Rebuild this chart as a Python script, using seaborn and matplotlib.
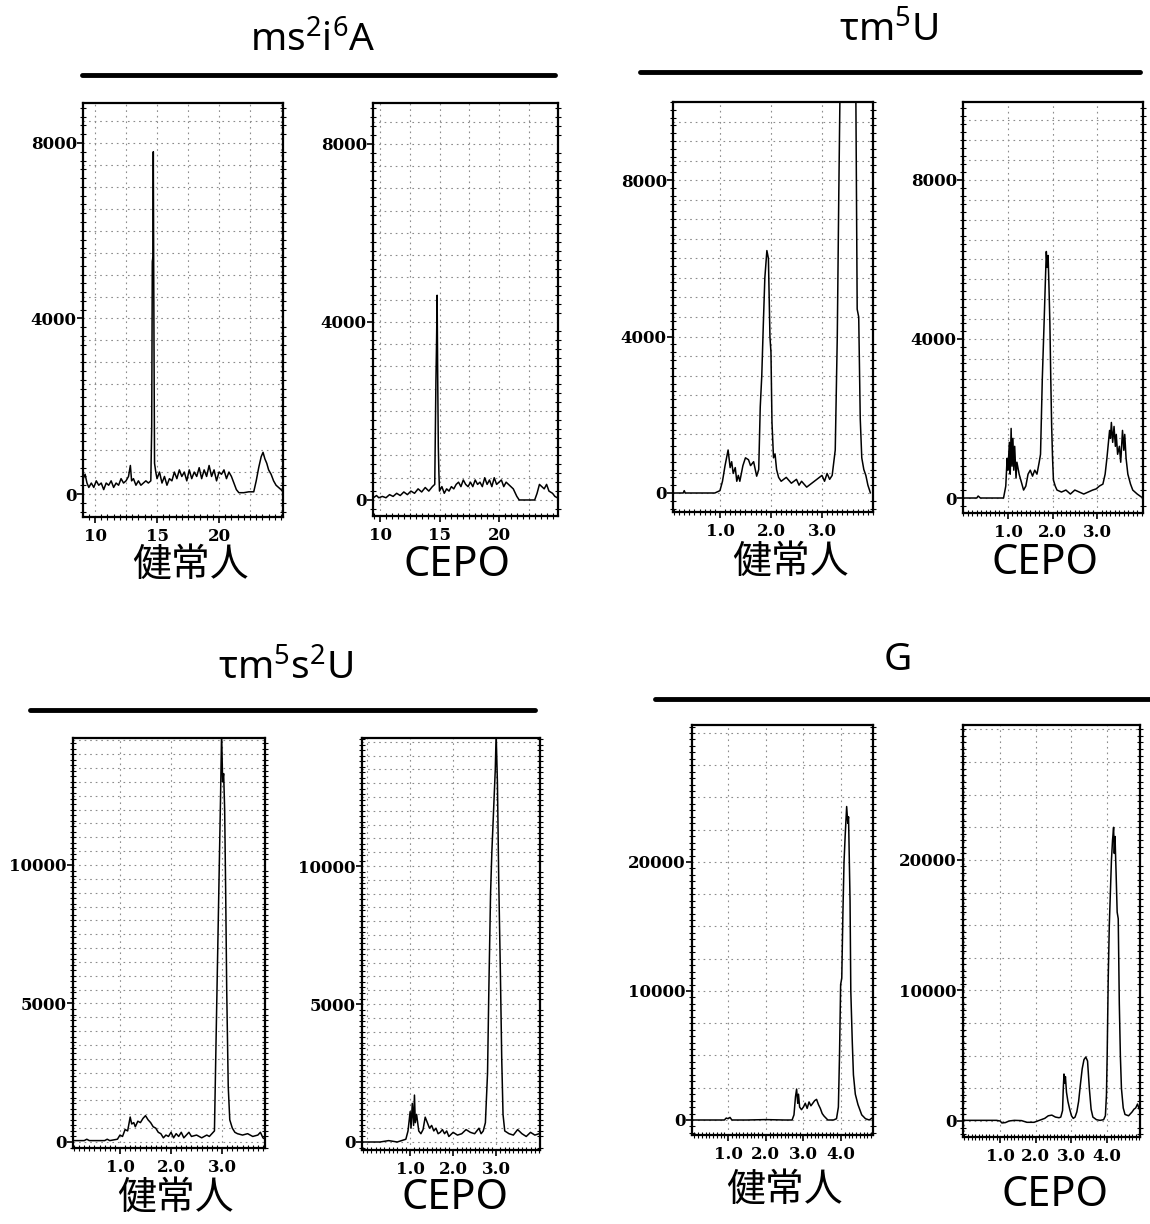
import numpy as np
import pandas as pd
import matplotlib
matplotlib.use("Agg")
import matplotlib.pyplot as plt
import seaborn as sns
from matplotlib.ticker import MultipleLocator
from matplotlib.lines import Line2D

sns.set_theme(style="white")
plt.rcParams['font.family'] = ['Noto Sans', 'DejaVu Sans']

# ---------------- data (retention time, intensity) ----------------
ms2i6A_healthy_t = [9.05, 9.2, 9.35, 9.5, 9.7, 9.9, 10.1, 10.3, 10.5, 10.7, 10.9, 11.1, 11.3, 11.5, 11.7, 11.9,
                    12.1, 12.3, 12.5, 12.7, 12.85, 12.95, 13.1, 13.3, 13.5, 13.7, 13.9, 14.1, 14.3, 14.5, 14.57,
                    14.62, 14.67, 14.7, 14.73, 14.77, 14.8, 14.9, 15.0, 15.2, 15.4, 15.6, 15.8, 16.0, 16.2, 16.4,
                    16.6, 16.8, 17.0, 17.2, 17.4, 17.6, 17.8, 18.0, 18.2, 18.4, 18.6, 18.8, 19.0, 19.2, 19.4,
                    19.6, 19.8, 20.0, 20.2, 20.4, 20.6, 20.8, 21.0, 21.2, 21.4, 21.6, 22.0, 22.4, 22.8, 23.0,
                    23.2, 23.4, 23.55, 23.7, 23.85, 24.0, 24.2, 24.4, 24.6, 24.8, 25.0, 25.15]
ms2i6A_healthy_v = [350, 450, 250, 150, 250, 150, 300, 200, 250, 100, 250, 200, 300, 150, 250, 200,
                    350, 250, 300, 400, 650, 300, 350, 200, 300, 200, 250, 300, 250, 300, 1500,
                    5300, 5400, 7800, 5300, 2500, 700, 500, 350, 500, 250, 400, 200, 350, 300, 500,
                    350, 550, 400, 500, 300, 550, 350, 500, 400, 600, 350, 550, 400, 650, 400,
                    550, 300, 500, 450, 550, 350, 500, 400, 250, 100, 30, 30, 50, 50, 300,
                    600, 850, 950, 800, 700, 550, 450, 300, 200, 150, 100, 50]

ms2i6A_cepo_t = [9.45, 9.7, 9.9, 10.2, 10.5, 10.8, 11.1, 11.4, 11.7, 12.0, 12.3, 12.6, 12.9, 13.2, 13.5, 13.8,
                 14.1, 14.4, 14.6, 14.7, 14.75, 14.8, 14.85, 14.9, 14.95, 15.0, 15.2, 15.4, 15.6, 15.8, 16.0,
                 16.2, 16.4, 16.6, 16.8, 17.0, 17.2, 17.4, 17.6, 17.8, 18.0, 18.2, 18.4, 18.6, 18.8, 19.0,
                 19.2, 19.4, 19.6, 19.8, 20.0, 20.2, 20.4, 20.6, 20.8, 21.0, 21.2, 21.5, 21.7, 23.0, 23.2,
                 23.4, 23.6, 23.8, 24.0, 24.2, 24.5, 24.7, 24.9]
ms2i6A_cepo_v = [50, 100, 50, 80, 50, 120, 80, 150, 100, 180, 120, 200, 150, 250, 180, 280,
                 200, 300, 350, 2700, 3500, 4600, 2700, 1200, 600, 200, 300, 150, 250, 200, 300,
                 250, 350, 400, 300, 450, 350, 300, 400, 300, 450, 350, 400, 300, 500, 350,
                 450, 300, 500, 350, 400, 450, 300, 400, 350, 300, 250, 80, 0, 0, 150,
                 350, 300, 250, 350, 200, 150, 80, 50]

tm5U_healthy_t = [0.08, 0.28, 0.3, 0.32, 0.9, 1.0, 1.05, 1.1, 1.13, 1.16, 1.2, 1.23, 1.26, 1.3, 1.33, 1.36,
                  1.39, 1.45, 1.5, 1.56, 1.6, 1.66, 1.72, 1.76, 1.79, 1.82, 1.85, 1.88, 1.92, 1.95, 1.98,
                  2.0, 2.02, 2.05, 2.08, 2.11, 2.15, 2.2, 2.3, 2.4, 2.5, 2.55, 2.6, 2.7, 2.8, 2.9, 3.0,
                  3.05, 3.1, 3.15, 3.2, 3.26, 3.3, 3.33, 3.36, 3.66, 3.69, 3.72, 3.75, 3.78, 3.82, 3.86,
                  3.9, 3.95]
tm5U_healthy_v = [0, 0, 60, 0, 0, 60, 300, 700, 900, 1100, 650, 800, 500, 650, 300, 450,
                  300, 700, 900, 850, 700, 800, 430, 600, 2200, 3000, 4300, 5500, 6200, 6000, 4000,
                  3600, 1800, 900, 1000, 600, 400, 300, 400, 250, 350, 200, 300, 150, 250, 350, 450,
                  300, 500, 350, 450, 1100, 4000, 7700, 11000, 11000, 4700, 4500, 1900, 900, 600, 450,
                  200, 0]

tm5U_cepo_t = [0.0, 0.3, 0.33, 0.38, 0.9, 0.95, 0.98, 1.0, 1.03, 1.05, 1.07, 1.09, 1.11, 1.13, 1.15, 1.18,
               1.2, 1.25, 1.3, 1.35, 1.4, 1.45, 1.5, 1.55, 1.6, 1.65, 1.7, 1.73, 1.77, 1.81, 1.84, 1.86,
               1.88, 1.9, 1.92, 1.94, 1.96, 1.98, 2.0, 2.02, 2.06, 2.1, 2.2, 2.3, 2.4, 2.5, 2.6, 2.7, 2.8,
               2.9, 2.98, 3.05, 3.13, 3.18, 3.22, 3.25, 3.28, 3.3, 3.32, 3.35, 3.38, 3.41, 3.43, 3.46,
               3.5, 3.53, 3.57, 3.6, 3.62, 3.65, 3.69, 3.75, 3.8, 3.9, 4.0]
tm5U_cepo_v = [0, 0, 50, 0, 0, 300, 1000, 700, 1400, 600, 1750, 800, 1500, 700, 1300, 500,
               900, 600, 400, 200, 300, 600, 700, 550, 700, 600, 900, 1100, 3000, 4400, 5500, 6200,
               5800, 6100, 5300, 4400, 3000, 1800, 1000, 450, 300, 200, 150, 200, 100, 200, 150, 100, 150,
               200, 230, 300, 350, 600, 1000, 1350, 1700, 1500, 1900, 1400, 1800, 1300, 1600, 1100,
               1300, 900, 1700, 1200, 1600, 1000, 600, 350, 200, 100, 20]

tm5s2U_healthy_t = [0.08, 0.3, 0.35, 0.4, 0.7, 0.75, 0.8, 0.95, 1.0, 1.05, 1.1, 1.15, 1.2, 1.23, 1.27, 1.3,
                    1.35, 1.4, 1.45, 1.5, 1.55, 1.6, 1.65, 1.7, 1.75, 1.8, 1.85, 1.9, 1.95, 2.0, 2.05, 2.1,
                    2.15, 2.2, 2.25, 2.3, 2.35, 2.4, 2.5, 2.6, 2.7, 2.75, 2.8, 2.85, 2.88, 2.91, 2.94, 2.97,
                    2.99, 3.01, 3.03, 3.05, 3.07, 3.09, 3.12, 3.15, 3.2, 3.25, 3.3, 3.4, 3.5, 3.6, 3.7,
                    3.75, 3.8, 3.84]
tm5s2U_healthy_v = [50, 50, 100, 50, 50, 100, 50, 100, 250, 200, 450, 400, 900, 650, 700, 550,
                    750, 700, 850, 950, 800, 700, 550, 500, 350, 300, 150, 250, 200, 350, 150, 300,
                    200, 350, 150, 250, 350, 200, 250, 150, 250, 200, 300, 400, 3500, 6500, 9500, 12500,
                    14800, 13000, 13300, 12000, 9000, 5500, 2000, 800, 500, 350, 300, 250, 300, 200, 250,
                    350, 150, 100]

tm5s2U_cepo_t = [-0.12, 0.3, 0.5, 0.7, 0.9, 0.95, 1.0, 1.02, 1.05, 1.08, 1.1, 1.12, 1.15, 1.2, 1.25, 1.3,
                 1.35, 1.4, 1.45, 1.5, 1.55, 1.6, 1.65, 1.7, 1.75, 1.8, 1.85, 1.9, 2.0, 2.1, 2.2, 2.3,
                 2.4, 2.5, 2.6, 2.65, 2.7, 2.75, 2.8, 2.83, 2.87, 2.9, 2.94, 2.98, 3.0, 3.03, 3.06, 3.1,
                 3.13, 3.16, 3.2, 3.3, 3.4, 3.5, 3.6, 3.7, 3.8, 3.9, 4.0]
tm5s2U_cepo_v = [0, 0, 50, 0, 100, 400, 1100, 500, 1400, 600, 1700, 700, 1000, 400, 300, 450,
                 900, 700, 500, 600, 400, 500, 300, 350, 450, 300, 400, 200, 350, 250, 300, 450,
                 350, 300, 500, 300, 400, 700, 2500, 5500, 9000, 10500, 12000, 13500, 14800, 13000, 9500, 6000,
                 3000, 1000, 400, 300, 250, 450, 300, 200, 350, 250, 300]

G_healthy_t = [0.04, 0.9, 0.95, 1.0, 1.05, 1.1, 1.5, 2.0, 2.5, 2.7, 2.75, 2.79, 2.82, 2.85, 2.87, 2.9,
               2.95, 3.0, 3.05, 3.1, 3.15, 3.2, 3.25, 3.3, 3.35, 3.4, 3.45, 3.5, 3.55, 3.65, 3.8, 3.88,
               3.93, 3.96, 3.99, 4.02, 4.05, 4.08, 4.11, 4.15, 4.18, 4.2, 4.24, 4.26, 4.3, 4.33, 4.38,
               4.45, 4.55, 4.65, 4.75, 4.85]
G_healthy_v = [0, 0, 150, 100, 200, 0, 0, 30, 0, 0, 400, 1800, 2400, 1300, 2000, 1000,
               800, 1000, 1300, 900, 1400, 1100, 1300, 1500, 1600, 1200, 900, 500, 300, 0, 0, 100,
               1000, 5000, 10500, 11000, 16000, 20000, 22000, 24300, 23000, 23500, 17000, 10000, 6000, 3500, 2000,
               1200, 400, 100, 0, 200]

G_cepo_t = [-0.04, 0.5, 0.9, 1.0, 1.05, 1.15, 1.25, 1.4, 1.6, 1.75, 1.95, 2.05, 2.15, 2.25, 2.35, 2.45,
            2.55, 2.65, 2.7, 2.75, 2.77, 2.79, 2.81, 2.83, 2.86, 2.9, 2.95, 3.0, 3.05, 3.1, 3.15, 3.2,
            3.25, 3.3, 3.35, 3.4, 3.45, 3.5, 3.55, 3.6, 3.7, 3.8, 3.9, 3.95, 3.98, 4.0, 4.03, 4.06,
            4.09, 4.12, 4.15, 4.18, 4.2, 4.22, 4.25, 4.28, 4.31, 4.34, 4.37, 4.4, 4.45, 4.5, 4.6,
            4.7, 4.75, 4.8, 4.85, 4.9]
G_cepo_v = [50, 50, 50, 0, -150, -120, 0, 50, 30, -100, -100, 0, 100, 200, 400, 450,
            300, 250, 300, 800, 2500, 3600, 2900, 3400, 2200, 1500, 900, 400, 200, 300, 700, 1500,
            2800, 4000, 4700, 4900, 4600, 2500, 900, 300, 100, 50, 100, 400, 2000, 5000, 11000, 15000,
            17500, 20000, 21500, 22500, 20500, 21800, 19000, 16000, 15500, 9000, 5000, 2500, 1000, 500, 400,
            700, 900, 1000, 1300, 900]

# y tick labels / x tick labels per compound
ms2i6A_yticks = [0, 4000, 8000]
ms2i6A_xticks = [10, 15, 20]
tm5U_yticks = [0, 4000, 8000]
tm5U_xticks = [1.0, 2.0, 3.0]
tm5s2U_yticks = [0, 5000, 10000]
tm5s2U_xticks = [1.0, 2.0, 3.0]
G_yticks = [0, 10000, 20000]
G_xticks = [1.0, 2.0, 3.0, 4.0]

W, H = 1150, 1224
fig = plt.figure(figsize=(W / 100, H / 100), dpi=100)
fig.patch.set_facecolor("white")


def rect(l, t, r, b):
    return [l / W, 1 - b / H, (r - l) / W, (b - t) / H]


panels = [
    dict(t=ms2i6A_healthy_t, v=ms2i6A_healthy_v, box=(83, 103, 283, 517), xlim=(9.03, 25.16), ylim=(-524, 8911),
         xt=ms2i6A_xticks, yt=ms2i6A_yticks, xfmt="{:.0f}", gx=2.5, gy=500, mx=0.5, my=200),
    dict(t=ms2i6A_cepo_t, v=ms2i6A_cepo_v, box=(373, 103, 558, 516), xlim=(9.41, 24.96), ylim=(-360, 8920),
         xt=ms2i6A_xticks, yt=ms2i6A_yticks, xfmt="{:.0f}", gx=2.5, gy=500, mx=0.5, my=200),
    dict(t=tm5U_healthy_t, v=tm5U_healthy_v, box=(673, 102, 873, 512), xlim=(0.08, 4.0), ylim=(-486, 10000),
         xt=tm5U_xticks, yt=tm5U_yticks, xfmt="{:.1f}", gx=1.0, gy=500, mx=0.1, my=200),
    dict(t=tm5U_cepo_t, v=tm5U_cepo_v, box=(963, 102, 1143, 513), xlim=(-0.01, 4.03), ylim=(-377, 9960),
         xt=tm5U_xticks, yt=tm5U_yticks, xfmt="{:.1f}", gx=1.0, gy=500, mx=0.1, my=200),
    dict(t=tm5s2U_healthy_t, v=tm5s2U_healthy_v, box=(73, 738, 265, 1148), xlim=(0.08, 3.84), ylim=(-217, 14585),
         xt=tm5s2U_xticks, yt=tm5s2U_yticks, xfmt="{:.1f}", gx=1.0, gy=500, mx=0.1, my=200),
    dict(t=tm5s2U_cepo_t, v=tm5s2U_cepo_v, box=(362, 738, 540, 1150), xlim=(-0.12, 4.02), ylim=(-290, 14640),
         xt=tm5s2U_xticks, yt=tm5s2U_yticks, xfmt="{:.1f}", gx=1.0, gy=500, mx=0.1, my=200),
    dict(t=G_healthy_t, v=G_healthy_v, box=(692, 725, 873, 1135), xlim=(0.04, 4.85), ylim=(-1163, 30620),
         xt=G_xticks, yt=G_yticks, xfmt="{:.1f}", gx=1.0, gy=2500, mx=0.1, my=500),
    dict(t=G_cepo_t, v=G_cepo_v, box=(963, 725, 1140, 1137), xlim=(-0.04, 4.92), ylim=(-1226, 30340),
         xt=G_xticks, yt=G_yticks, xfmt="{:.1f}", gx=1.0, gy=2500, mx=0.1, my=500),
]

for p in panels:
    ax = fig.add_axes(rect(*p["box"]))
    ax.set_facecolor("white")
    df = pd.DataFrame({"t": p["t"], "v": p["v"]})
    # grid
    x0, x1 = p["xlim"]
    y0, y1 = p["ylim"]
    for gxv in np.arange(np.ceil(x0 / p["gx"]) * p["gx"], x1, p["gx"]):
        ax.axvline(gxv, color="#8c8c8c", lw=0.8, ls=(0, (1.5, 3.5)), zorder=0)
    for gyv in np.arange(np.ceil(y0 / p["gy"]) * p["gy"], y1, p["gy"]):
        ax.axhline(gyv, color="#8c8c8c", lw=0.8, ls=(0, (1.5, 3.5)), zorder=0)
    sns.lineplot(data=df, x="t", y="v", ax=ax, color="black", linewidth=1.1,
                 estimator=None, sort=False, legend=False)
    ax.set_xlim(*p["xlim"])
    ax.set_ylim(*p["ylim"])
    ax.set_xlabel("")
    ax.set_ylabel("")
    ax.set_xticks(p["xt"])
    ax.set_xticklabels([p["xfmt"].format(x) for x in p["xt"]])
    ax.set_yticks(p["yt"])
    ax.set_yticklabels([str(y) for y in p["yt"]])
    ax.xaxis.set_minor_locator(MultipleLocator(p["mx"]))
    ax.yaxis.set_minor_locator(MultipleLocator(p["my"]))
    ax.tick_params(axis="y", which="major", direction="out", length=4, width=1.2, pad=0.5,
                   left=True, right=False, colors="black")
    ax.tick_params(axis="y", which="minor", direction="inout", length=4, width=0.8,
                   left=True, right=True, colors="black")
    ax.tick_params(axis="x", which="major", direction="out", length=4, width=1.2, pad=4,
                   bottom=True, top=False, colors="black")
    ax.tick_params(axis="x", which="minor", direction="inout", length=4, width=0.8,
                   bottom=True, top=False, colors="black")
    for lab in ax.get_xticklabels() + ax.get_yticklabels():
        lab.set_fontfamily("DejaVu Serif")
        lab.set_fontweight("bold")
        lab.set_fontsize(12)
        lab.set_color("black")
    for s in ax.spines.values():
        s.set_visible(True)
        s.set_color("black")
        s.set_linewidth(1.6)
    ax.grid(False)


def fx(x):
    return x / W


def fy(y):
    return 1 - y / H


# titles
title_kw = dict(ha="center", va="center", fontsize=28, color="black", family=["Noto Sans", "DejaVu Sans"])
fig.text(fx(313), fy(40), r"ms$\mathregular{^2}$i$\mathregular{^6}$A", **title_kw)
fig.text(fx(889), fy(30), r"τm$\mathregular{^5}$U", **title_kw)
fig.text(fx(285), fy(668), r"τm$\mathregular{^5}$s$\mathregular{^2}$U", **title_kw)
fig.text(fx(898), fy(660), "G", **title_kw)

# heavy rules under titles
for (xa, xb, yy) in [(82, 555, 75), (640, 1140, 72), (30, 535, 710), (655, 1150, 699)]:
    fig.add_artist(Line2D([fx(xa), fx(xb)], [fy(yy), fy(yy)], color="black", lw=3.5,
                          transform=fig.transFigure))

# group labels
cjk_kw = dict(ha="center", va="center", fontsize=28, color="black", family=["Noto Sans CJK JP", "DejaVu Sans"])
lat_kw = dict(ha="center", va="center", fontsize=30, color="black", family=["Noto Sans", "DejaVu Sans"])
fig.text(fx(190), fy(565), "健常人", **cjk_kw)
fig.text(fx(457), fy(565), "CEPO", **lat_kw)
fig.text(fx(790), fy(562), "健常人", **cjk_kw)
fig.text(fx(1045), fy(563), "CEPO", **lat_kw)
fig.text(fx(175), fy(1198), "健常人", **cjk_kw)
fig.text(fx(455), fy(1198), "CEPO", **lat_kw)
fig.text(fx(784), fy(1190), "健常人", **cjk_kw)
fig.text(fx(1055), fy(1195), "CEPO", **lat_kw)

fig.savefig("out.png", dpi=100, facecolor="white")
